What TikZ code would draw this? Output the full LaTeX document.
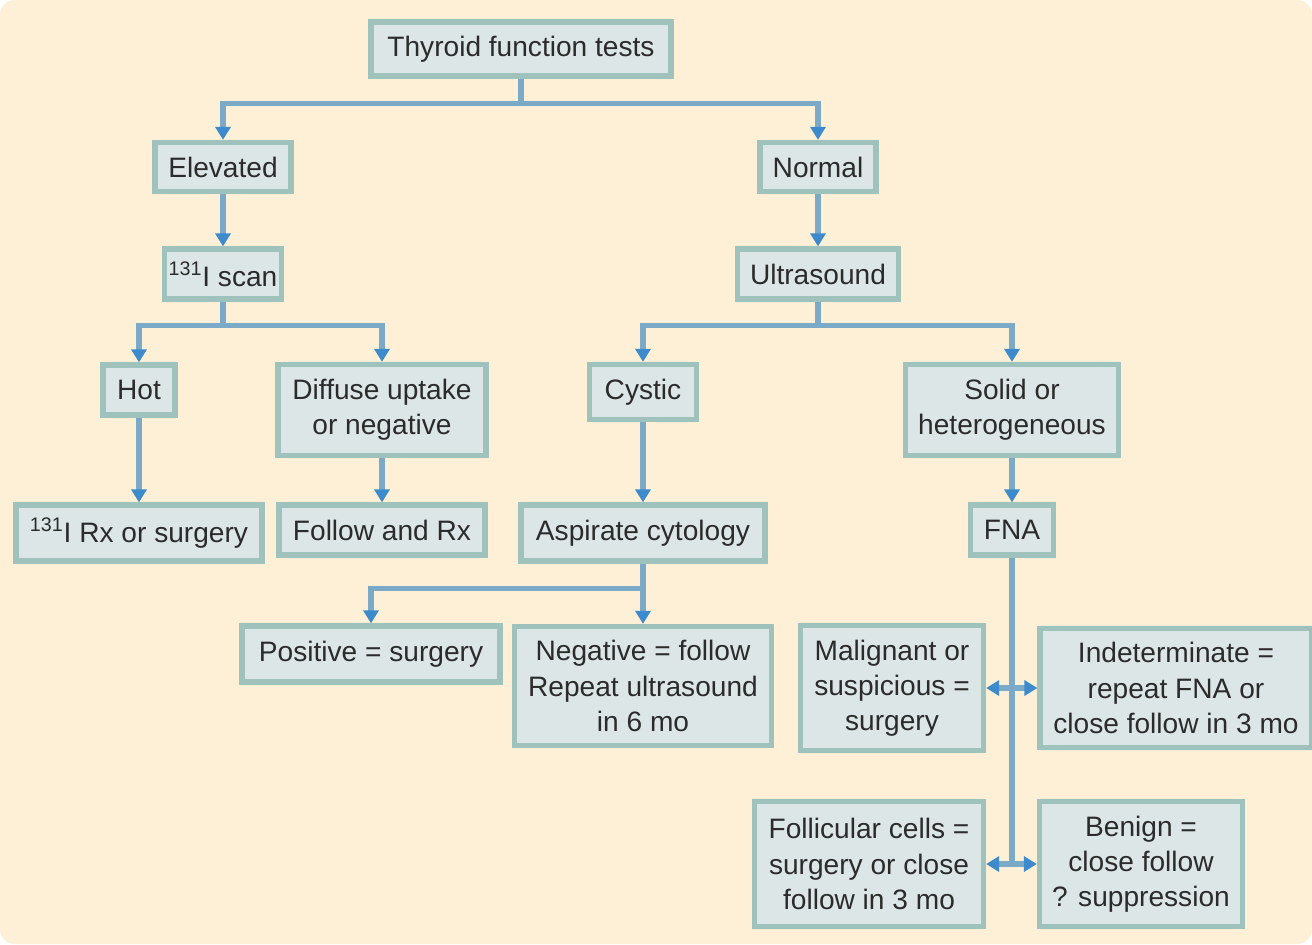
\documentclass[tikz,border=0pt]{standalone}
\usepackage{fontspec}
\setmainfont{Liberation Sans}
\usetikzlibrary{arrows.meta,positioning,calc}
\definecolor{paper}{HTML}{FDF0D6}
\definecolor{boxfill}{HTML}{DDE6E6}
\definecolor{boxedge}{HTML}{A0C2BD}
\definecolor{linkblue}{HTML}{7BA9C8}
\definecolor{tipblue}{HTML}{3D8BCC}
\definecolor{ink}{HTML}{2B2B2B}

\tikzset{
  stepbox/.style={draw=boxedge, fill=boxfill, line width=3pt, text=ink,
    align=center, inner sep=2pt, font=\fontsize{16}{20}\selectfont},
  wh/.style 2 args={minimum width=#1cm, minimum height=#2cm},
  link/.style={draw=linkblue, line width=3.2pt},
}

\begin{document}
\begin{tikzpicture}[x=0.02cm, y=-0.02cm]
	\useasboundingbox (0,0) rectangle (1312,944);
	\fill[paper, rounded corners=0.3cm] (0,0) rectangle (1312,944);

	\begin{scope}[every node/.style={stepbox}]
		\node[wh={6.0}{1.08}] (thyroid) at (521,49) {Thyroid function tests};
		\node[wh={2.72}{0.98}] (elevated) at (223,167) {Elevated};
		\node[wh={2.32}{0.98}] (normal) at (818,167) {Normal};
		\node[wh={2.34}{1.0}] (scan) at (223,274) {\textsuperscript{131}I scan};
		\node[wh={3.22}{1.0}] (ultra) at (818,274) {Ultrasound};
		\node[wh={1.44}{1.0}] (hot) at (139,390) {Hot};
		\node[wh={4.16}{1.82}] (diffuse) at (382,410) {Diffuse uptake\\or negative};
		\node[wh={2.14}{1.1}] (cystic) at (643,392) {Cystic};
		\node[wh={4.26}{1.82}] (solid) at (1012,410) {Solid or\\heterogeneous};
		\node[wh={4.92}{1.12}] (rx) at (139,533) {\textsuperscript{131}I Rx or surgery};
		\node[wh={4.12}{1.0}] (follow) at (382,530) {Follow and Rx};
		\node[wh={4.88}{1.12}] (aspirate) at (643,533) {Aspirate cytology};
		\node[wh={1.66}{1.0}] (fna) at (1012,530) {FNA};
		\node[wh={5.16}{1.12}] (positive) at (371,654) {Positive = surgery};
		\node[wh={5.14}{2.38}] (negative) at (643,686) {Negative = follow\\Repeat ultrasound\\in 6 mo};
		\node[wh={3.66}{2.5}] (malignant) at (892,688) {Malignant or\\suspicious =\\surgery};
		\node[wh={5.44}{2.38}] (indet) at (1176,688) {Indeterminate =\\repeat FNA or\\close follow in 3 mo};
		\node[wh={4.58}{2.5}] (follicular) at (869,864) {Follicular cells =\\surgery or close\\follow in 3 mo};
		\node[wh={4.06}{2.5}] (benign) at (1141,864) {Benign =\\close follow\\? suppression};
	\end{scope}

	\begin{scope}[>={Triangle[length=0.26cm, width=0.3cm, color=tipblue]}]
		\draw[link,->] (thyroid.south) -- ++(0,25) -| (elevated.north);
		\draw[link,->] (thyroid.south) -- ++(0,25) -| (normal.north);
		\draw[link,->] (elevated) -- (scan);
		\draw[link,->] (normal) -- (ultra);
		\draw[link,->] (scan.south) -- ++(0,24) -| (hot.north);
		\draw[link,->] (scan.south) -- ++(0,24) -| (diffuse.north);
		\draw[link,->] (ultra.south) -- ++(0,24) -| (cystic.north);
		\draw[link,->] (ultra.south) -- ++(0,24) -| (solid.north);
		\draw[link,->] (hot) -- (rx);
		\draw[link,->] (diffuse) -- (follow);
		\draw[link,->] (cystic) -- (aspirate);
		\draw[link,->] (solid) -- (fna);
		\draw[link,->] (aspirate.south) -- ++(0,25) -| (positive.north);
		\draw[link,->] (aspirate.south) -- ++(0,25) -| (negative.north);
		% FNA results
		\coordinate (upfork) at (fna.south |- malignant.east);
		\coordinate (lowfork) at (fna.south |- follicular.east);
		\draw[link] (fna.south) -- (lowfork);
		\draw[link,->] (upfork) -- (malignant.east);
		\draw[link,->] (upfork) -- (indet.west);
		\draw[link,->] (lowfork) -- (follicular.east);
		\draw[link,->] (lowfork) -- (benign.west);
	\end{scope}
\end{tikzpicture}
\end{document}
